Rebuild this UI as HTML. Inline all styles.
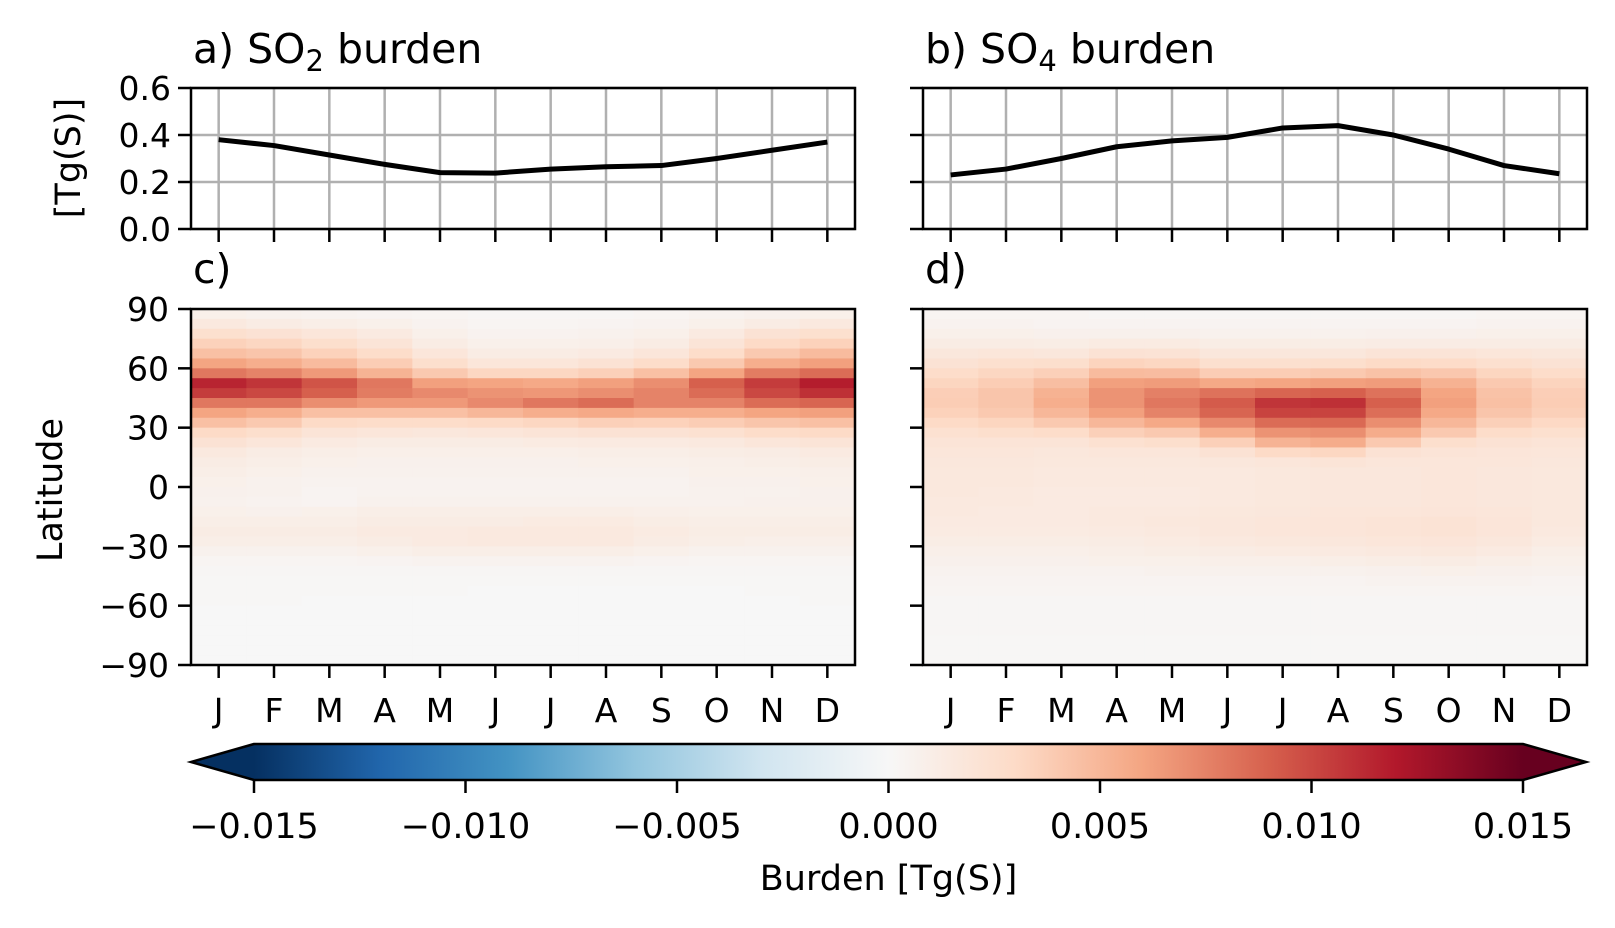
<!DOCTYPE html>
<html><head><meta charset="utf-8"><style>
html,body{margin:0;padding:0;background:#fff;}
svg{display:block;font-family:"DejaVu Sans","Liberation Sans",sans-serif;}
</style></head><body>
<svg id="fig" width="1615" height="928" viewBox="0 0 1615 928" xmlns="http://www.w3.org/2000/svg"></svg>
<script>
const months = ["J","F","M","A","M","J","J","A","S","O","N","D"];
const so2Series = [0.38,0.355,0.315,0.275,0.24,0.238,0.255,0.265,0.27,0.30,0.335,0.37];
const so4Series = [0.23,0.255,0.30,0.35,0.375,0.39,0.43,0.44,0.40,0.34,0.27,0.235];
const lineTicks = [0.0,0.2,0.4,0.6];
const lineTickLabels = ["0.0","0.2","0.4","0.6"];
const latTicks = [90,60,30,0,-30,-60,-90];
const latTickLabels = ["90","60","30","0","\u221230","\u221260","\u221290"];
const cbTicks = [-0.015,-0.010,-0.005,0,0.005,0.010,0.015];
const cbTickLabels = ["\u22120.015","\u22120.010","\u22120.005","0.000","0.005","0.010","0.015"];
// latitude bin centers, north to south (5 degree bins)
const latCenters = [87.5,82.5,77.5,72.5,67.5,62.5,57.5,52.5,47.5,42.5,37.5,32.5,27.5,22.5,17.5,12.5,7.5,2.5,-2.5,-7.5,-12.5,-17.5,-22.5,-27.5,-32.5,-37.5,-42.5,-47.5,-52.5,-57.5,-62.5,-67.5,-72.5,-77.5,-82.5,-87.5];
// SO2 burden anomaly per month, units 1e-4 Tg(S), north to south
const so2Map = [
[8,15,25,35,45,60,80,115,105,80,60,45,30,22,15,12,10,8,7,6,8,10,12,10,6,3,2,1,1,1,0,0,0,0,0,0],
[6,12,22,32,42,55,75,108,100,80,55,40,26,18,12,10,8,6,6,5,7,10,12,10,6,3,2,1,1,1,0,0,0,0,0,0],
[5,10,18,26,35,48,65,95,90,70,45,30,20,14,10,8,6,5,4,4,8,10,12,10,6,3,2,1,1,0,0,0,0,0,0,0],
[4,8,14,20,28,38,52,80,78,65,45,28,18,12,9,7,6,5,5,6,10,12,14,12,8,4,2,1,1,0,0,0,0,0,0,0],
[3,5,8,12,18,26,40,62,72,65,45,28,17,12,9,7,6,5,5,6,10,12,14,14,10,5,2,1,1,0,0,0,0,0,0,0],
[2,3,5,8,12,18,32,60,68,72,50,30,18,12,9,7,6,5,5,6,10,12,15,15,10,5,2,1,0,0,0,0,0,0,0,0],
[2,3,5,8,12,18,32,58,66,80,55,32,20,13,9,7,6,5,5,6,10,13,15,15,10,5,2,1,0,0,0,0,0,0,0,0],
[2,4,6,9,14,22,36,62,70,85,58,36,22,14,10,8,6,5,5,6,10,13,15,15,10,5,2,1,0,0,0,0,0,0,0,0],
[3,5,8,12,18,28,45,70,75,75,55,35,22,14,10,8,6,5,5,6,9,11,13,12,8,4,2,1,0,0,0,0,0,0,0,0],
[5,8,14,20,28,40,60,90,85,75,55,38,24,15,11,9,8,7,6,6,8,10,11,10,6,3,2,1,0,0,0,0,0,0,0,0],
[7,12,22,30,40,55,78,105,100,85,60,42,28,18,12,10,8,7,6,7,8,10,11,9,6,3,2,1,1,0,0,0,0,0,0,0],
[8,15,25,35,48,62,85,118,110,88,62,45,30,20,14,11,9,8,7,7,8,10,11,9,6,3,2,1,1,1,0,0,0,0,0,0]];
// SO4 burden anomaly per month, units 1e-4 Tg(S), north to south
const so4Map = [
[3,5,8,12,17,22,28,33,37,38,35,30,24,20,18,17,16,16,16,15,15,14,13,11,9,7,5,4,3,2,2,2,2,1,1,1],
[3,5,8,12,18,25,32,38,42,42,40,33,26,20,18,17,16,16,15,15,14,14,13,11,9,7,5,4,3,2,2,2,2,1,1,1],
[3,4,7,11,17,26,36,46,53,55,50,40,28,20,17,16,15,15,14,14,14,14,13,11,9,7,5,4,3,2,2,2,2,1,1,1],
[2,4,7,13,22,34,48,62,68,68,62,50,36,24,18,16,15,15,14,14,15,15,14,12,10,8,5,4,3,2,2,2,2,1,1,1],
[2,4,7,13,21,32,47,64,76,80,75,58,40,26,18,16,15,15,14,14,15,16,15,13,11,8,6,4,3,2,2,2,2,1,1,1],
[2,4,6,11,17,25,38,58,82,92,88,72,55,36,22,17,15,15,15,15,16,17,17,15,12,9,6,4,3,2,2,2,2,1,1,1],
[2,4,6,11,17,25,38,60,88,108,102,85,68,52,30,18,16,16,16,16,17,18,18,16,13,9,6,4,3,2,2,2,2,1,1,1],
[2,4,6,11,17,26,40,62,90,110,102,86,70,56,32,20,17,17,17,17,18,19,19,17,14,10,6,4,3,2,2,2,2,1,1,1],
[2,4,7,12,20,30,44,64,82,90,84,70,56,40,22,18,17,17,17,17,18,20,20,18,15,11,7,5,3,2,2,2,2,1,1,1],
[2,4,7,12,20,29,41,53,60,62,58,50,40,26,20,18,18,18,18,18,19,21,21,19,16,12,8,5,3,2,2,2,2,1,1,1],
[3,5,8,12,18,25,33,40,44,45,42,36,28,22,19,18,17,17,17,17,18,19,19,17,14,10,7,5,3,2,2,2,2,1,1,1],
[3,5,8,12,17,22,28,34,37,38,36,31,25,20,18,17,16,16,16,16,16,16,15,13,10,8,6,4,3,2,2,2,2,1,1,1]];

const NS="http://www.w3.org/2000/svg";
const svg=document.getElementById('fig');
function mk(tag,attrs,parent){const e=document.createElementNS(NS,tag);for(const k in attrs)e.setAttribute(k,attrs[k]);(parent||svg).appendChild(e);return e;}
const cmapStops=[[0,"#053061"],[0.1,"#2166ac"],[0.2,"#4393c3"],[0.3,"#92c5de"],[0.4,"#d1e5f0"],[0.5,"#f7f7f7"],[0.6,"#fddbc7"],[0.7,"#f4a582"],[0.8,"#d6604d"],[0.9,"#b2182b"],[1,"#67001f"]];
function hex(h){return [1,3,5].map(i=>parseInt(h.substr(i,2),16));}
function cmap(v){let t=(v+0.015)/0.03;t=Math.max(0,Math.min(1,t));
 for(let i=0;i<cmapStops.length-1;i++){const [a,ca]=cmapStops[i],[b,cb]=cmapStops[i+1];
  if(t<=b){const f=(t-a)/(b-a);const A=hex(ca),B=hex(cb);return "rgb("+A.map((x,j)=>Math.round(x+(B[j]-x)*f)).join(",")+")";}}
 return cmapStops[10][1];}

const panels=[
 {L:191,R:855,series:so2Series,map:so2Map,title:"a",sub:"2",lab:"c",ylabels:true},
 {L:923,R:1587,series:so4Series,map:so4Map,title:"b",sub:"4",lab:"d",ylabels:false}];
const topT=88, topB=229, hmT=309, hmB=665, TL=13;
const TFS=33, TITFS=41;
panels.forEach((p,pi)=>{
 const w=(p.R-p.L)/12;
 const xS=i=>p.L+w*(i+0.5);
 const yLine=v=>topB-(v-0)/(0.6)*(topB-topT);
 const yLat=l=>hmT+(90-l)/180*(hmB-hmT);
 const pre=pi===0?'so2':'so4';
 const g=mk('g',{});
 
 
 months.forEach((m,i)=>{const l=mk('line',{x1:xS(i),x2:xS(i),y1:topT,y2:topB,stroke:'#b0b0b0','stroke-width':2.5},g);
  });
 lineTicks.forEach((v,i)=>{const l=mk('line',{x1:p.L,x2:p.R,y1:yLine(v),y2:yLine(v),stroke:'#b0b0b0','stroke-width':2.5},g);
  
  const t=mk('line',{x1:p.L-TL,x2:p.L,y1:yLine(v),y2:yLine(v),stroke:'#000','stroke-width':2.5},g);
  
  if(p.ylabels){const tx=mk('text',{x:p.L-20,y:yLine(v)+12,'text-anchor':'end','font-size':TFS},g);tx.textContent=lineTickLabels[i];
   }});
 months.forEach((m,i)=>{const t=mk('line',{x1:xS(i),x2:xS(i),y1:topB,y2:topB+TL,stroke:'#000','stroke-width':2.5},g);
  });
 const path=mk('polyline',{points:p.series.map((v,i)=>xS(i)+','+yLine(v)).join(' '),fill:'none',stroke:'#000','stroke-width':5,'stroke-linejoin':'round'},g);
 
 
 const fr=mk('rect',{x:p.L,y:topT,width:p.R-p.L,height:topB-topT,fill:'none',stroke:'#000','stroke-width':2.5},g);
 
 const ti=mk('text',{x:p.L+2,y:63,'font-size':TITFS});
 
 ti.appendChild(document.createTextNode(p.title+") SO"));
 const ts=mk('tspan',{'font-size':29,dy:8},ti);ts.textContent=p.sub;
 const ts2=mk('tspan',{dy:-8},ti);ts2.textContent=" burden";
 const h=mk('g',{});
 
 
 p.map.forEach((col,mi)=>{col.forEach((v,li)=>{
  const lat=latCenters[li];const y0=yLat(lat+2.5),y1=yLat(lat-2.5);
  const r=mk('rect',{x:p.L+w*mi,y:y0,width:w+0.6,height:y1-y0+0.6,fill:cmap(v*1e-4)},h);
  });});
 latTicks.forEach((l,i)=>{const t=mk('line',{x1:p.L-TL,x2:p.L,y1:yLat(l),y2:yLat(l),stroke:'#000','stroke-width':2.5},h);
  
  if(p.ylabels){const tx=mk('text',{x:p.L-22,y:yLat(l)+12,'text-anchor':'end','font-size':TFS},h);tx.textContent=latTickLabels[i];
   }});
 months.forEach((m,i)=>{const t=mk('line',{x1:xS(i),x2:xS(i),y1:hmB,y2:hmB+TL,stroke:'#000','stroke-width':2.5},h);
  
  const tx=mk('text',{x:xS(i),y:722,'text-anchor':'middle','font-size':TFS},h);tx.textContent=m;
  });
 const fr2=mk('rect',{x:p.L,y:hmT,width:p.R-p.L,height:hmB-hmT,fill:'none',stroke:'#000','stroke-width':2.5},h);
 
 const lb=mk('text',{x:p.L+2,y:283,'font-size':TITFS});lb.textContent=p.lab+")";
 
});
const yt1=mk('text',{x:0,y:0,'font-size':35,'text-anchor':'middle',transform:'translate(80,158) rotate(-90)'});
yt1.textContent="[Tg(S)]";

const yt2=mk('text',{x:0,y:0,'font-size':35,'text-anchor':'middle',transform:'translate(62,490) rotate(-90)'});
yt2.textContent="Latitude";

const cbL=254,cbR=1523,cbT=744,cbB=780,cbM=762;
const cbx=v=>cbL+(v+0.015)/0.03*(cbR-cbL);
const defs=mk('defs',{});
const lg=mk('linearGradient',{id:'cbgrad',x1:0,x2:1,y1:0,y2:0},defs);
cmapStops.forEach(s=>mk('stop',{offset:s[0],'stop-color':s[1]},lg));
const cb=mk('g',{});

mk('polygon',{points:`${cbL},${cbT} 191,${cbM} ${cbL},${cbB}`,fill:'#053061'},cb);
mk('polygon',{points:`${cbR},${cbT} 1586,${cbM} ${cbR},${cbB}`,fill:'#67001f'},cb);
mk('rect',{x:cbL,y:cbT,width:cbR-cbL,height:cbB-cbT,fill:'url(#cbgrad)'},cb);
mk('polygon',{points:`${cbL},${cbT} 191,${cbM} ${cbL},${cbB} ${cbR},${cbB} 1586,${cbM} ${cbR},${cbT}`,fill:'none',stroke:'#000','stroke-width':2.5},cb);
cbTicks.forEach((v,i)=>{const t=mk('line',{x1:cbx(v),x2:cbx(v),y1:cbB,y2:cbB+TL,stroke:'#000','stroke-width':2.5},cb);
 
 const tx=mk('text',{x:cbx(v),y:838,'text-anchor':'middle','font-size':35},cb);tx.textContent=cbTickLabels[i];
 });
const ct=mk('text',{x:(cbL+cbR)/2,y:890,'text-anchor':'middle','font-size':35});ct.textContent="Burden [Tg(S)]";

</script>
</body></html>
